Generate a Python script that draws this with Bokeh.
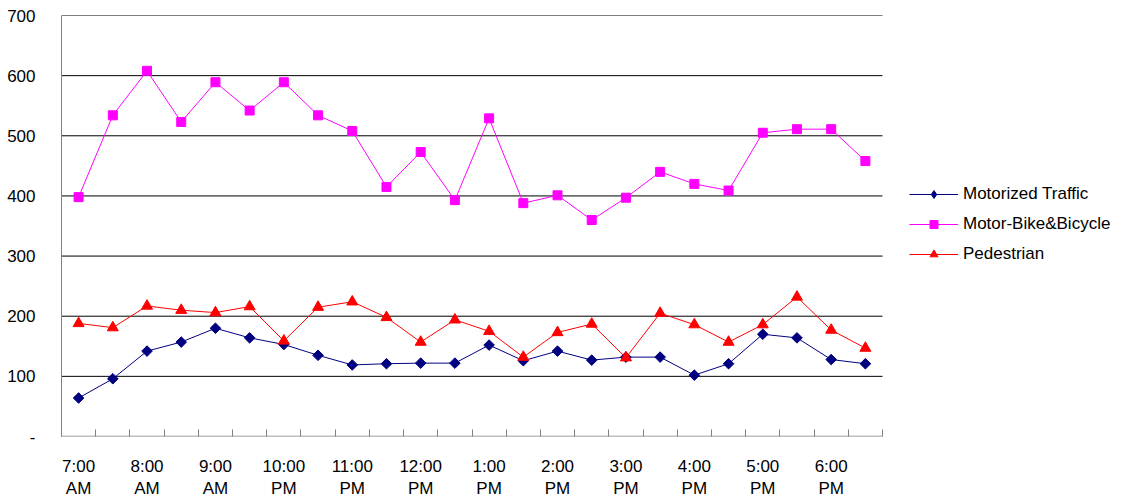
from bokeh.plotting import figure
from bokeh.models import Range1d, FixedTicker, Legend, LegendItem
from bokeh.embed import file_html
from bokeh.resources import INLINE
import math

# Half-hourly counts, 7:00 AM to 6:30 PM
time_slots = [
    "7:00 AM", "7:30 AM", "8:00 AM", "8:30 AM", "9:00 AM", "9:30 AM",
    "10:00 AM", "10:30 AM", "11:00 AM", "11:30 AM", "12:00 PM", "12:30 PM",
    "1:00 PM", "1:30 PM", "2:00 PM", "2:30 PM", "3:00 PM", "3:30 PM",
    "4:00 PM", "4:30 PM", "5:00 PM", "5:30 PM", "6:00 PM", "6:30 PM",
]
hour_labels = [
    "7:00\nAM", "8:00\nAM", "9:00\nAM", "10:00\nPM", "11:00\nPM", "12:00\nPM",
    "1:00\nPM", "2:00\nPM", "3:00\nPM", "4:00\nPM", "5:00\nPM", "6:00\nPM",
]
motorized = [64, 96, 142, 157, 180, 164, 153, 135, 119, 121, 122, 122,
             152, 126, 142, 127, 132, 132, 102, 121, 170, 164, 128, 121]
bike_bicycle = [398, 534, 608, 523, 589, 542, 589, 534, 508, 415, 473, 393,
                529, 388, 401, 360, 397, 440, 420, 409, 505, 511, 511, 458]
pedestrian = [188, 181, 217, 210, 206, 216, 159, 215, 224, 198, 157, 194,
              175, 132, 173, 187, 131, 205, 186, 157, 186, 232, 177, 147]
y_ticks = [0, 100, 200, 300, 400, 500, 600, 700]

FONT = "Liberation Sans"
xs = list(range(len(time_slots)))
x_lo, x_hi = -0.5, len(time_slots) - 0.5

# The frame runs to the right edge; the data area ends at x_hi and the
# space beyond it holds the legend.
SLOT_PX = 821 / len(time_slots)
FRAME_PX = 1124 - 61

p = figure(width=1124, height=501, output_backend="svg", toolbar_location=None,
           x_range=Range1d(x_lo, x_lo + FRAME_PX / SLOT_PX), y_range=Range1d(0, 700),
           min_border_left=61, min_border_right=0, min_border_top=15,
           min_border_bottom=61)
p.outline_line_color = None
p.background_fill_color = "white"
p.border_fill_color = "white"

# Y axis
p.yaxis.ticker = FixedTicker(ticks=y_ticks)
p.yaxis.major_label_overrides = {0: "-"}
p.yaxis.axis_line_color = "#808080"
p.yaxis.major_tick_line_color = None
p.yaxis.minor_tick_line_color = None
p.yaxis.major_label_standoff = 20
p.yaxis.major_label_text_font = FONT
p.yaxis.major_label_text_font_size = "17px"
p.yaxis.major_label_text_color = "black"

# X axis: labels every hour, tick marks between half-hour slots
hour_pos = xs[::2]
p.xaxis.ticker = FixedTicker(ticks=hour_pos,
                             minor_ticks=[x - 0.5 for x in xs] + [x_hi])
p.xaxis.major_label_overrides = {x: lab for x, lab in zip(hour_pos, hour_labels)}
p.xaxis.axis_line_color = None
p.xaxis.major_tick_line_color = None
p.xaxis.minor_tick_line_color = "#808080"
p.xaxis.minor_tick_in = 7
p.xaxis.minor_tick_out = 0
p.xaxis.major_label_standoff = 14
p.xaxis.major_label_text_font = FONT
p.xaxis.major_label_text_font_size = "17px"
p.xaxis.major_label_text_color = "black"

p.xgrid.visible = False
p.ygrid.visible = False

# Horizontal gridlines and the category axis line, limited to the data area
grid_vals = y_ticks[1:]
p.segment(x0=[x_lo] * len(grid_vals), x1=[x_hi] * len(grid_vals),
          y0=grid_vals, y1=grid_vals, line_color="black", line_width=1)
p.segment(x0=[x_lo], x1=[x_hi], y0=[y_ticks[0]], y1=[y_ticks[0]],
          line_color="#808080", line_width=1.5)

NAVY, MAGENTA, RED = "#000080", "#FF00FF", "#FF0000"

# Series
l1 = p.line(xs, motorized, line_color=NAVY, line_width=1)
# diamond keys (used by the legend), covered by the rotated-square markers
m1_key = p.scatter(xs, motorized, marker="diamond", size=8,
                   fill_color=NAVY, line_color=NAVY)
p.scatter(xs, motorized, marker="square", size=7.5, angle=math.pi / 4,
          fill_color=NAVY, line_color=NAVY)
l2 = p.line(xs, bike_bicycle, line_color=MAGENTA, line_width=1)
m2 = p.scatter(xs, bike_bicycle, marker="square", size=9,
               fill_color=MAGENTA, line_color=MAGENTA)
l3 = p.line(xs, pedestrian, line_color=RED, line_width=1)
m3 = p.scatter(xs, pedestrian, marker="triangle", size=11,
               fill_color=RED, line_color=RED)

legend = Legend(items=[
    LegendItem(label="Motorized Traffic", renderers=[l1, m1_key]),
    LegendItem(label="Motor-Bike&Bicycle", renderers=[l2, m2]),
    LegendItem(label="Pedestrian", renderers=[l3, m3]),
], location=(848, 172))
legend.border_line_color = None
legend.background_fill_alpha = 0
legend.padding = 0
legend.margin = 0
legend.spacing = 10
legend.glyph_width = 49
legend.glyph_height = 20
legend.label_height = 20
legend.label_standoff = 5
legend.label_text_font = FONT
legend.label_text_font_size = "17px"
legend.label_text_color = "black"
p.add_layout(legend, "center")

open("out.html", "w").write(file_html(p, INLINE))
